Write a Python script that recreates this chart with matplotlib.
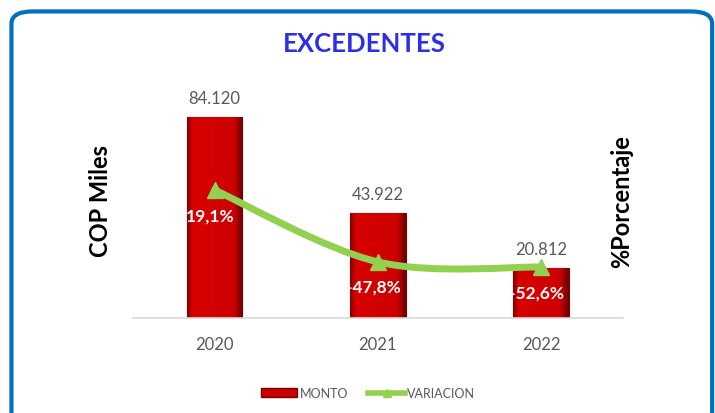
import numpy as np
import matplotlib
matplotlib.use("Agg")
import matplotlib.pyplot as plt
from matplotlib.path import Path
from matplotlib.patches import PathPatch, FancyBboxPatch, Patch
from matplotlib.lines import Line2D
from matplotlib.colors import LinearSegmentedColormap

YEARS = ["2020", "2021", "2022"]
MONTO = [84120, 43922, 20812]
VARIACION = [19.1, -47.8, -52.6]
MONTO_LABELS = ["84.120", "43.922", "20.812"]
VAR_LABELS = ["19,1%", "-47,8%", "-52,6%"]

BAR_RED = "#CC0000"
BAR_EDGE = "#7A0000"
GREEN = "#92D050"
GRAY = "#595959"
TITLE_BLUE = "#2E2EE6"
BORDER_BLUE = "#0070C0"

plt.rcParams["font.family"] = ["Lato", "DejaVu Sans"]

# bevel look for the bars: dark edges, flat red middle
bevel = LinearSegmentedColormap.from_list(
    "bevel", [(0, "#8A0000"), (0.1, "#D80000"), (0.85, "#CC0000"), (1, "#6E0000")])


def smooth_path(xs, ys):
    """Catmull-Rom style bezier through the points (like Excel smoothed line)."""
    pts = np.column_stack([xs, ys]).astype(float)
    ext = np.vstack([pts[0], pts, pts[-1]])
    verts = [pts[0]]
    codes = [Path.MOVETO]
    for i in range(len(pts) - 1):
        p0, p1, p2, p3 = ext[i], ext[i + 1], ext[i + 2], ext[i + 3]
        c1 = p1 + (p2 - p0) / 6.0
        c2 = p2 - (p3 - p1) / 6.0
        verts += [c1, c2, p2]
        codes += [Path.CURVE4] * 3
    return Path(verts, codes)


fig = plt.figure(figsize=(7.15, 4.14), dpi=100)

# rounded blue frame
frame = FancyBboxPatch((0.016, -0.05), 0.98, 1.02,
                       boxstyle="round,pad=0,rounding_size=0.03",
                       transform=fig.transFigure, facecolor="none",
                       edgecolor=BORDER_BLUE, linewidth=3, zorder=0)
fig.patches.append(frame)

ax = fig.add_axes([0.186, 0.2295, 0.685, 0.519])
x = np.arange(len(YEARS))
bars = ax.bar(x, MONTO, width=0.34, color=BAR_RED, edgecolor=BAR_EDGE, linewidth=0.8, zorder=2)
grad = np.linspace(0, 1, 64).reshape(1, -1)
for b in bars:
    im = ax.imshow(grad, cmap=bevel, aspect="auto", zorder=2.5,
                   extent=(b.get_x(), b.get_x() + b.get_width(), 0, b.get_height()))
    im.set_clip_path(b)
ax.set_xlim(-0.5, 2.5)
ax.set_ylim(0, 90000)
for s in ["top", "right", "left"]:
    ax.spines[s].set_visible(False)
ax.spines["bottom"].set_color("#D9D9D9")
ax.spines["bottom"].set_linewidth(1.2)
ax.set_yticks([])
ax.set_xticks(x)
ax.set_xticklabels(YEARS, fontsize=12, color=GRAY)
ax.tick_params(axis="x", length=0, pad=13)

for xi, v, lab in zip(x, MONTO, MONTO_LABELS):
    ax.annotate(lab, (xi, v), xytext=(0, 8), textcoords="offset points",
                ha="center", va="bottom", fontsize=12, color=GRAY)

ax2 = ax.twinx()
ax2.set_ylim(-100, 100)
ax2.set_yticks([])
for s in ax2.spines.values():
    s.set_visible(False)

ax2.add_patch(PathPatch(smooth_path(x, VARIACION), facecolor="none",
                        edgecolor=GREEN, linewidth=5, capstyle="round", zorder=3))
ax2.plot(x, VARIACION, linestyle="none", marker="^", markersize=11,
         color=GREEN, zorder=4)

for xi, v, lab in zip(x, VARIACION, VAR_LABELS):
    ax2.annotate(lab, (xi, v), xytext=(-3, -18), textcoords="offset points",
                 ha="center", va="center", fontsize=12.5, color="white",
                 fontweight="bold", zorder=5)

fig.text(0.509, 0.893, "EXCEDENTES", ha="center", va="center", fontsize=18.5,
         fontweight="bold", color=TITLE_BLUE)
fig.text(0.14, 0.515, "COP Miles", rotation=90, ha="center", va="center",
         fontsize=17, fontweight="bold", color="black")
fig.text(0.87, 0.514, "%Porcentaje", rotation=90, ha="center", va="center",
         fontsize=17, fontweight="bold", color="black")

handles = [Patch(facecolor=BAR_RED, edgecolor=BAR_EDGE),
           Line2D([0], [0], color=GREEN, linewidth=4, marker="^", markersize=6)]
fig.legend(handles, ["MONTO", "VARIACION"], loc="center", bbox_to_anchor=(0.515, 0.048),
           ncol=2, frameon=False, fontsize=9, labelcolor=GRAY,
           handlelength=2.9, handletextpad=0.2, columnspacing=1.6)

fig.savefig("out.png", dpi=100)
